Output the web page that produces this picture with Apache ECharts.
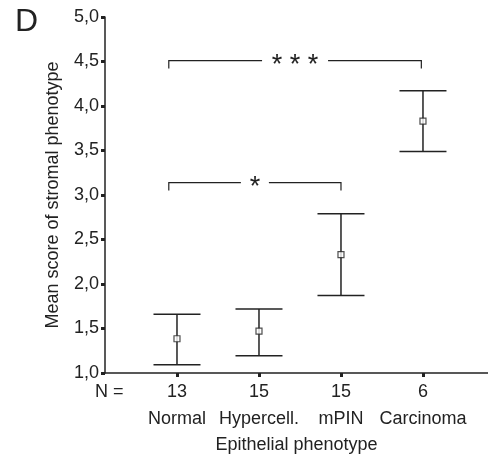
<!DOCTYPE html>
<html>
<head>
<meta charset="utf-8">
<script src="https://cdn.jsdelivr.net/npm/echarts@6/dist/echarts.min.js"></script>
<style>
html,body{margin:0;padding:0;background:#fff;}
#chart{width:488px;height:457px;}
</style>
</head>
<body>
<div id="chart"></div>
<script>
// ---- data ----
const categories = ['Normal', 'Hypercell.', 'mPIN', 'Carcinoma'];
const counts = [13, 15, 15, 6];
const means = [1.385, 1.47, 2.33, 3.83];
const lower = [1.093, 1.195, 1.87, 3.49];
const upper = [1.66, 1.72, 2.79, 4.17];
const bracketStart = [-0.1, -0.1];
const bracketEnd = [2.98, 2.0];
const bracketLevel = [4.51, 3.14];
const bracketLabel = ['* * *', '*'];

const FONT = 'Liberation Sans, Arial, sans-serif';
const INK = '#222';
const catIdx = categories.map((c, i) => i);

const chart = echarts.init(document.getElementById('chart'), null, {renderer: 'canvas'});

const option = {
  animation: false,
  backgroundColor: '#fff',
  textStyle: {fontFamily: FONT},
  grid: {left: 105, right: 0, top: 17, bottom: 84, outerBoundsMode: 'none'},
  xAxis: {
    type: 'value',
    min: -0.878,
    max: 3.793,
    splitLine: {show: false},
    axisLine: {show: true, onZero: false, lineStyle: {color: INK, width: 1.5}},
    axisTick: {show: true, customValues: catIdx, length: 4, lineStyle: {color: INK, width: 3}},
    axisLabel: {
      customValues: catIdx,
      margin: 6,
      formatter: v => '{n|' + counts[Math.round(v)] + '}\n{c|' + categories[Math.round(v)] + '}',
      rich: {
        n: {fontSize: 18, lineHeight: 27, color: INK, fontFamily: FONT},
        c: {fontSize: 18, lineHeight: 27, color: INK, fontFamily: FONT}
      }
    },
    name: 'Epithelial phenotype',
    nameLocation: 'middle',
    nameGap: 63,
    nameTextStyle: {fontSize: 18, color: INK, fontFamily: FONT}
  },
  yAxis: {
    type: 'value',
    min: 1,
    max: 5,
    interval: 0.5,
    splitLine: {show: false},
    axisLine: {show: true, onZero: false, lineStyle: {color: INK, width: 1.5}},
    axisTick: {show: true, length: 4, lineStyle: {color: INK, width: 3}},
    axisLabel: {
      margin: 6,
      fontSize: 18,
      color: INK,
      fontFamily: FONT,
      formatter: v => v.toFixed(1).replace('.', ',')
    },
    name: 'Mean score of stromal phenotype',
    nameLocation: 'middle',
    nameGap: 43,
    nameTextStyle: {fontSize: 18, color: INK, fontFamily: FONT}
  },
  graphic: [
    {type: 'text', left: 15, top: 6, style: {text: 'D', fontSize: 32, fill: INK, fontFamily: FONT}},
    {type: 'text', left: 95, top: 383, style: {text: 'N =', fontSize: 18, fill: INK, fontFamily: FONT}}
  ],
  series: [
    {
      type: 'custom',
      name: 'range',
      data: catIdx.map(i => [i, lower[i], upper[i]]),
      encode: {x: 0, y: [1, 2]},
      renderItem: function (params, api) {
        const x = api.value(0);
        const lo = api.coord([x, api.value(1)]);
        const hi = api.coord([x, api.value(2)]);
        const hw = 23.5;
        const st = {stroke: INK, lineWidth: 1.5};
        return {
          type: 'group',
          children: [
            {type: 'line', shape: {x1: lo[0], y1: lo[1], x2: hi[0], y2: hi[1]}, style: st},
            {type: 'line', shape: {x1: lo[0] - hw, y1: lo[1], x2: lo[0] + hw, y2: lo[1]}, style: st},
            {type: 'line', shape: {x1: hi[0] - hw, y1: hi[1], x2: hi[0] + hw, y2: hi[1]}, style: st}
          ]
        };
      },
      z: 2
    },
    {
      type: 'scatter',
      name: 'mean',
      data: catIdx.map(i => [i, means[i]]),
      symbol: 'rect',
      symbolSize: 6,
      itemStyle: {color: '#fff', borderColor: INK, borderWidth: 1.2},
      z: 3
    },
    {
      type: 'custom',
      name: 'brackets',
      data: bracketLevel.map((y, i) => [bracketStart[i], bracketEnd[i], y]),
      encode: {x: [0, 1], y: 2},
      renderItem: function (params, api) {
        const a = api.coord([api.value(0), api.value(2)]);
        const b = api.coord([api.value(1), api.value(2)]);
        const txt = bracketLabel[params.dataIndex];
        const mid = (a[0] + b[0]) / 2;
        const gap = txt.length > 1 ? 33 : 14;
        const drop = 8;
        const st = {stroke: INK, lineWidth: 1.2, fill: null};
        return {
          type: 'group',
          children: [
            {type: 'polyline', shape: {points: [[a[0], a[1] + drop], [a[0], a[1]], [mid - gap, a[1]]]}, style: st},
            {type: 'polyline', shape: {points: [[mid + gap, b[1]], [b[0], b[1]], [b[0], b[1] + drop]]}, style: st},
            {type: 'text', x: mid, y: a[1] + 5, style: {text: txt, fontSize: 27, fill: INK, fontFamily: FONT, align: 'center', verticalAlign: 'middle'}}
          ]
        };
      },
      z: 2
    }
  ]
};
chart.setOption(option);
</script>
</body>
</html>
